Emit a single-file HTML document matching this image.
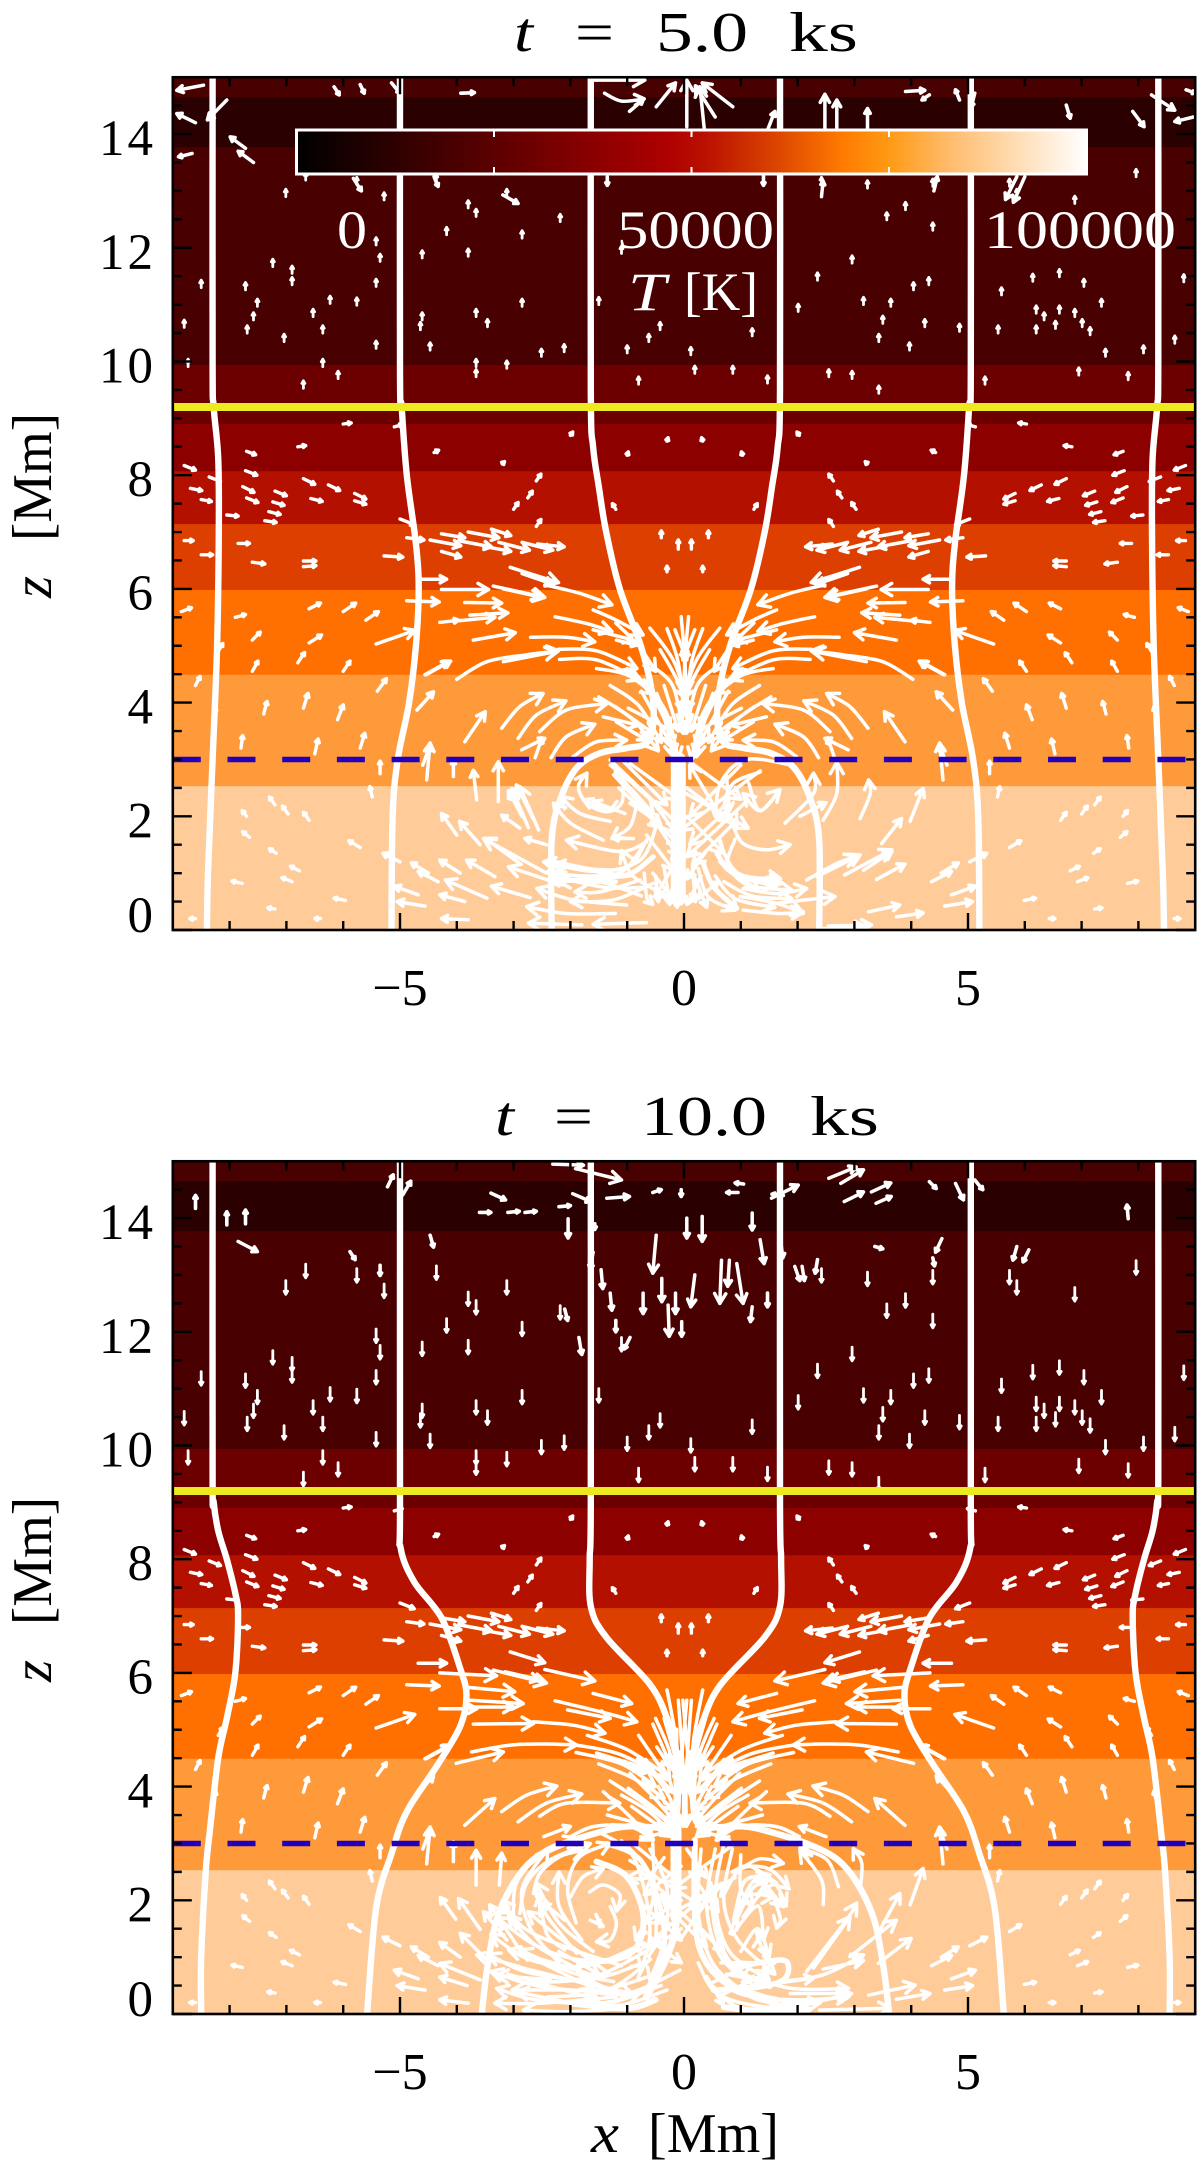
<!DOCTYPE html>
<html lang="en">
<head>
<meta charset="utf-8">
<title>Temperature and velocity field panels</title>
<style>
html,body{margin:0;padding:0;background:#fff;}
svg{display:block;}
text{font-family:"Liberation Serif",serif;fill:#000;}
</style>
</head>
<body>
<svg id="figure" xmlns="http://www.w3.org/2000/svg" width="1200" height="2165" viewBox="0 0 1200 2165">
<defs>
<clipPath id="plot-clip-1"><rect x="173" y="77" width="1023" height="853"/></clipPath>
<clipPath id="plot-clip-2"><rect x="173" y="1161" width="1023" height="853"/></clipPath>
<linearGradient id="colorbar-gradient" x1="0" x2="1" y1="0" y2="0">
<stop offset="0" stop-color="#000000"/>
<stop offset="0.13" stop-color="#300000"/>
<stop offset="0.25" stop-color="#5c0000"/>
<stop offset="0.47" stop-color="#ae0000"/>
<stop offset="0.52" stop-color="#ba1200"/>
<stop offset="0.6" stop-color="#d84000"/>
<stop offset="0.69" stop-color="#ff7a00"/>
<stop offset="0.75" stop-color="#ff9a14"/>
<stop offset="0.83" stop-color="#ffbd70"/>
<stop offset="1" stop-color="#ffffff"/>
</linearGradient>
</defs>
<g id="panel-1"></g>
<g id="panel-2"></g>
<g id="colorbar">
<rect x="296.5" y="130" width="790" height="44" fill="url(#colorbar-gradient)" stroke="#fff" stroke-width="3"/>
<text x="337" y="248" font-size="54" textLength="30" lengthAdjust="spacingAndGlyphs" style="fill:#fff">0</text>
<text x="617" y="248" font-size="54" textLength="157" lengthAdjust="spacingAndGlyphs" style="fill:#fff">50000</text>
<text x="984" y="248" font-size="54" textLength="192" lengthAdjust="spacingAndGlyphs" style="fill:#fff">100000</text>
<text x="628" y="310" font-size="54" font-style="italic" textLength="38" lengthAdjust="spacingAndGlyphs" style="fill:#fff">T</text>
<text x="684" y="310" font-size="54" textLength="74" lengthAdjust="spacingAndGlyphs" style="fill:#fff">[K]</text>
</g>
<g font-size="56">
<text x="514" y="51" font-style="italic" textLength="19" lengthAdjust="spacingAndGlyphs">t</text>
<text x="575" y="51" textLength="39" lengthAdjust="spacingAndGlyphs">=</text>
<text x="656" y="51" textLength="92" lengthAdjust="spacingAndGlyphs">5.0</text>
<text x="789" y="51" textLength="69" lengthAdjust="spacingAndGlyphs">ks</text>
</g>
<g font-size="56">
<text x="495" y="1135" font-style="italic" textLength="19" lengthAdjust="spacingAndGlyphs">t</text>
<text x="554" y="1135" textLength="39" lengthAdjust="spacingAndGlyphs">=</text>
<text x="641" y="1135" textLength="126" lengthAdjust="spacingAndGlyphs">10.0</text>
<text x="810" y="1135" textLength="69" lengthAdjust="spacingAndGlyphs">ks</text>
</g>
<g font-size="56">
<text x="591" y="2152" font-style="italic" textLength="28" lengthAdjust="spacingAndGlyphs">x</text>
<text x="648" y="2152" textLength="131" lengthAdjust="spacingAndGlyphs">[Mm]</text>
</g>
<g font-size="56">
<text transform="translate(51,598) rotate(-90)" font-style="italic" textLength="22" lengthAdjust="spacingAndGlyphs">z</text>
<text transform="translate(51,541) rotate(-90)" textLength="128" lengthAdjust="spacingAndGlyphs">[Mm]</text>
</g>
<g font-size="56">
<text transform="translate(51,1682) rotate(-90)" font-style="italic" textLength="22" lengthAdjust="spacingAndGlyphs">z</text>
<text transform="translate(51,1625) rotate(-90)" textLength="128" lengthAdjust="spacingAndGlyphs">[Mm]</text>
</g>
</svg>
<script>
// Temperature bands: upper/lower z edge and colour, top to bottom
const bandEdges = [15, 14.65, 13.77, 9.94, 8.9, 8.07, 7.14, 5.98, 4.49, 2.53, -0.01];
const bandColors = ['#480000', '#2a0000', '#480000', '#6c0000', '#8d0000', '#b31000', '#dd3f00', '#ff7000', '#ff9a3a', '#ffcc99'];
const xTickLabels = [-5, 0, 5];
const zTickLabels = [0, 2, 4, 6, 8, 10, 12, 14];
const transitionHeight = 9.2;
const coronaBase = 3;

// Left-hand field lines; [x, z] in Mm. The right-hand lines are their mirror images.
const fieldLinesP1 = [
  [[-8.3,15],[-8.3,10],[-8.28,9.2],[-8.2,8.3],[-8.19,7],[-8.22,5],[-8.3,3],[-8.38,1],[-8.4,0]],
  [[-5,15],[-5,9.8],[-4.97,9.2],[-4.88,8],[-4.72,6.8],[-4.67,6],[-4.72,5],[-4.84,4],[-5.04,3],[-5.13,2],[-5.15,0]],
  [[-1.64,15],[-1.64,9.5],[-1.6,8.5],[-1.5,7.8],[-1.37,7],[-1.13,6],[-.76,5],[-.57,4.22],[-.54,3.64],[-.66,3.29],[-1.01,3.2],[-1.48,3.11],[-1.89,2.85],[-2.18,2.29],[-2.33,1.58],[-2.33,0]]
];
const fieldLinesP2 = [
  [[-8.3,15],[-8.3,9.5],[-8.28,9],[-8.2,8.5],[-8.05,8],[-7.9,7.4],[-7.85,7],[-7.9,6],[-8.05,5.2],[-8.2,4.5],[-8.35,3.2],[-8.42,2.5],[-8.5,1],[-8.5,0]],
  [[-5,15],[-5,9],[-4.99,8.2],[-4.75,7.6],[-4.27,6.97],[-3.94,6.08],[-3.83,5.6],[-3.94,5.06],[-4.34,4.38],[-4.88,3.56],[-5.15,2.82],[-5.42,1.86],[-5.58,0]],
  [[-1.64,15],[-1.64,9],[-1.66,8],[-1.64,7.17],[-1.37,6.63],[-.6,5.8],[-.3,5.2],[-.15,4.6],[-.12,3.6],[-.3,3.3],[-1,3.3],[-1.48,3.2],[-2.18,2.97],[-2.66,2.71],[-3,2.3],[-3.3,1.65],[-3.47,.77],[-3.56,0]]
];

// Mid-atmosphere stubs on the left: [x, z, dx, dz], mirrored to the right
const midStubs = [
  [-8.8,8.17,.2,-.08],[-8.36,7.97,.2,-.08],[-7.7,8.42,.16,-.06],[-7.72,8.08,.2,-.08],[-6.7,7.94,.2,-.1],[-6.26,7.83,.2,-.1],
  [-8.69,7.77,.2,-.04],[-7.77,7.8,.2,-.1],[-7.2,7.72,.2,-.08],[-6.57,7.59,.2,-.05],[-5.8,7.68,.2,-.1],[-8.5,7.57,.18,-.03],
  [-7.7,7.6,.2,-.08],[-7.24,7.53,.2,-.06],[-5.8,7.55,.2,-.06],[-8.05,7.3,.2,-.02],[-7.31,7.36,.2,-.05],[-7.38,7.2,.2,-.03],
  [-5,7.23,.25,-.1],[-7.85,6.8,.2,0],[-8.5,6.6,.2,0],[-7.6,6.47,.22,-.03],[-6.7,6.49,.22,0],[-6.7,6.39,.22,.02],[-8.8,6.85,.16,0],
  [-3.2,8.2,.04,.04],[-2,8.7,.04,.06],[-1,8.35,.02,.06],[-.3,8.6,.02,.06],[-4.4,8.4,.08,.04],[-5.1,8.85,.14,.04],[-6,8.9,.14,.02],[-6.8,8.5,.14,.02],
  [-2.6,7.9,.08,.12],[-3,7.4,.08,.12],[-2.75,7.6,.08,.12],[-2.6,7.1,.08,.12],[-1.2,7.4,-.06,.1],[-.4,6.9,0,.12],[-.1,6.7,0,.16],[-.3,6.3,0,.1],
  [-7.9,5.5,.18,.05],[-6.6,5.65,.2,.1],[-6,5.6,.22,.15],[-5.6,5.45,.22,.15],[-8.85,5.6,.18,.07],[-6.6,5.05,.22,.14],[-7.6,5.1,.14,.14],[-8.2,4.9,.08,.14],
  [-8.6,4.3,.08,.16],[-7.6,4.55,.1,.18],[-6.8,4.7,.12,.18],[-6,4.55,.12,.18],[-5.4,4.2,.16,.22],[-8.3,3.7,.06,.22],[-7.4,3.8,.06,.22],[-6.7,3.9,.08,.26],
  [-6.1,3.7,.1,.26],[-5.7,3.2,.08,.26],[-7.8,3.2,.03,.22],[-6.5,3.1,.06,.26],[-5.35,2.75,0,.22],
  [-7.2,2.2,-.1,.14],[-6.97,2.04,-.1,.14],[-6.6,1.93,-.1,.14],[-7.7,2,-.08,.1],[-7.65,1.63,-.12,.1],[-5.7,1.45,-.2,.12],[-7.18,1.35,-.12,.08],
  [-6.77,1.04,-.16,.08],[-6.9,.85,-.18,.07],[-7.78,.82,-.18,.04],[-5.96,.52,-.2,.04],[-7.2,.37,-.13,.02],[-5.49,2.34,-.04,.18],[-6.4,.2,-.1,0],[-8.6,.2,-.1,0]
];

// Outer velocity streaks, shared by both panels and mirrored: x0,z0,x1,z1[,...], last point is the tip
const outerStreaks = [
  [-4.27,6.97,-3.86,6.9],[-4.47,6.86,-3.93,6.76],[-4.27,6.66,-3.93,6.56],[-3.8,7,-3.26,6.9],[-3.93,6.84,-3.39,6.74],[-3.53,6.75,-3.05,6.66],
  [-3.26,6.82,-2.72,6.68],[-2.85,6.82,-2.31,6.68],[-3.39,7.05,-3.05,6.94],[-2.58,6.79,-2.11,6.74],[-4.88,6.9,-4.58,6.86],[-5.28,6.58,-4.95,6.56],
  [-4.68,6.17,-4.18,6.17],[-4.88,5.79,-4.31,5.77],[-5.42,5.03,-4.74,5.27],[-4.54,4.49,-4.11,4.73],[-4.56,4.49,-4.15,4.72],[-4.7,3.87,-4.41,4.19],
  [-4.53,2.64,-4.47,3.29],[-4.6,2.9,-4.47,3.25],[-4.33,.85,-4.68,1.03],[-4.5,1,-4.8,1.18],[-4.68,.62,-5.1,.77],[-4.56,.42,-5.05,.5],[-5,1.2,-5.3,1.35]
];

// Panel 1: flow above the cell (left side, mirrored)
const upperFlowP1 = [
  [-3.06,6.38,-2.21,6.11],[-2.85,6.27,-2.3,6.08],[-3.36,6.05,-2.45,5.85],[-3.18,6,-2.53,5.86],[-4.27,5.99,-3.44,5.99],[-3.86,5.76,-3.21,5.75],[-3.77,5.54,-3.1,5.58],[-3.97,5.44,-3.33,5.5],[-4.3,5.41,-3.97,5.45],
  [-3.71,5.1,-2.97,5.23],[-4,4.41,-3.47,4.72,-2.77,4.84,-2.21,4.91],[-3.18,4.72,-2.24,4.9],[-2.7,5.15,-2.07,5.15,-1.57,5.07],[-2.27,5.51,-1.71,5.39,-1.27,5.25],[-2.45,6.07,-1.83,5.92,-1.27,5.72],
  [-1.6,5.63,-1.19,5.45,-.72,5.19],[-2.21,4.94,-1.53,4.91,-.83,4.6],[-2.19,4.76,-1.53,4.75,-.77,4.4],[-1.54,4.6,-1.01,4.49,-.54,4.16],[-1.19,5.1,-.84,5.01],[-1.6,5.28,-.89,5.1],
  [-3.86,3.31,-3.5,3.84],[-3.21,3.55,-2.89,3.93,-2.48,4.16],[-2.92,3.37,-2.6,3.78,-2.08,4.03],[-2.54,3.49,-2.07,3.87,-1.36,3.98],[-2.34,3.03,-2.07,3.4,-1.57,3.62],[-2.86,3.17,-2.45,3.37],[-2.62,3.03,-2.5,3.38],[-1.95,3.05,-1.54,3.31,-1.01,3.34],
  [-1.21,3.93,-.54,3.46],[-1.42,3.75,-.8,3.6],[-.98,3.9,-.48,3.64],[-1.19,3.66,-.66,3.34],
  [-.6,5.31,-.19,4.75,.05,4.05],[-.42,4.93,-.07,4.28,.08,3.57],[-.54,4.63,-.19,4.28,-.01,3.46],[-.48,4.16,-.31,3.69,-.19,3.05],[.08,5.51,.02,4.75,.05,4.16],[-.16,5.28,.05,4.75],[-.35,4.3,-.1,3.5],[-.75,4.2,-.25,3.3],
  [-1.2,5.4,-.8,5,-.5,4.55],[-.85,4.5,-.45,4,-.2,3.2],[-.3,5.3,-.1,4.7,0,3.8],[-.7,4.4,-.3,3.8,-.1,3],[-1.3,4.3,-.8,3.95,-.4,3.3],[-1.5,4.1,-.9,3.7,-.45,3.15],[-1,4.6,-.55,4.1,-.25,3.5]
];
// Panel 1: cell below z = 3, left side
const lowerLeftP1 = [
  [-3.65,2.29,-3.71,2.81],[-4.06,2.7,-4.06,2.99],[-3.27,2.26,-3.27,2.96],[-2.56,1.76,-2.89,2.52],[-2.74,1.8,-3.03,2.49],[-2.85,2,-3.09,2.45],[-2.65,1.95,-2.95,2.55],[-2.89,1.79,-3.21,2.02],[-3.59,1.5,-3.95,1.91],[-4,1.67,-4.27,2.05],
  [-2.42,1.5,-2.8,1.61],[-2.89,1.17,-3.5,1.61],[-2.12,.79,-3.09,1.11],[-2.42,1,-3.53,1.61],[-2.71,.57,-3.39,.77],[-3.33,.94,-3.83,1.23],[-3.94,1,-4.3,1.23],[-3.47,.56,-4.2,.88],[-3.86,.5,-4.3,.62],[-3.8,.18,-4.27,.2],
  [-1.21,.29,-2.07,.29,-2.77,.41],[-1.8,.09,-2.74,.12],[-.66,.13,-1.6,.1],[-.77,.88,-1.48,.67,-1.92,.67],[-1.01,.44,-1.95,.53,-2.59,.73],[-.54,.82,-1.24,.53,-2,.5],
  [-.48,1.85,-.77,1.23,-1.54,1.03,-2.47,1.2],[-.66,1.58,-1,1.1,-1.8,1.08,-2.3,1.14],[-.72,1.48,-1.1,1.02,-1.7,.95,-2.3,1],[-.66,1.55,-1.13,1.38,-2.07,1.58],[-.89,1.61,-1.24,1.61],[-.83,2.23,-.95,1.82,-1.27,1.61],
  [-1.42,1.58,-2,1.88,-2.3,2.23],[-1.3,1.91,-1.83,2.05,-2.18,2.35],[-1.04,2.05,-1.6,2.26],[-1.18,2.26,-1.36,2.11,-1.77,2.29],[-1.07,2.58,-1.1,2.23,-1.36,2.08,-1.71,2.23,-1.86,2.52,-1.71,2.76],
  [-1.21,2.79,-.54,2.05],[-.95,2.23,-.42,1.88],[-.66,1.67,-.19,1.06],[-1.3,2.99,-.07,1.82],[-1.24,2.73,-.07,1.46],[-.95,2.93,-.07,2.29],[-.7,1,-.65,.55,-.55,.45],[-.5,.95,-.45,.5],[-.35,1.1,-.25,.45],[-.2,1.15,-.12,.4],[-.55,1,-.2,.55],[-.2,1.1,-.5,.6],
  [-1.3,2.9,-.6,2.3,-.15,1.7],[-1.1,3,-.3,2.2],[-1.15,2.5,-.4,1.8],[-.5,1.9,-.1,1.3],[-.3,.6,-.9,.95,-1.1,1.4],[-.75,.6,-1.5,.85,-2.2,.85],[-.75,.75,-1.4,.75,-2.3,.95],[-.95,.95,-1.6,.9,-2.4,.88]
];
// Panel 1: cell below z = 3, right side
const lowerRightP1 = [
  [.34,1.17,.52,.76,.93,.38],[.25,1.08,.43,.58,.9,.35],[.58,1.35,.87,1,1.69,.82],[.63,1.2,.99,.93,1.63,.77],[1.04,.73,1.63,.64,2.16,.73],[.99,.59,1.63,.47,2.1,.29],[1.04,.35,1.69,.29,2.1,.32],[1.63,.47,2.66,.59],[.7,.85,1.2,.6,1.9,.55],
  [2.16,.88,2.69,1.17,3.04,1.29],[2.34,.94,3.1,1.32],[2.83,.97,3.66,1.41],[3.16,1.05,3.66,1.38],[3.39,.89,3.89,1.16],[3.25,.32,3.8,.44],[3.74,.23,4.21,.3],[2.54,.07,3.3,.09],[2.4,.02,3.2,.06],
  [.87,1.82,1.04,1.52,1.45,1.41,1.87,1.5],[3.48,1.52,3.83,1.96],[3.98,1.91,4.21,2.49],[3.1,1.96,3.28,2.4,3.25,2.64],[1.78,1.88,2.28,2.4,2.28,2.76],[2.45,1.93,2.69,2.4,2.69,2.95],[2.04,2,2.5,2.24],
  [1.14,2.58,1.34,2.1,1.69,2.47],[1.69,2.47,1.34,2.1,1.04,2.4],[1.34,2.78,.87,2.58,.72,2.17,.93,1.82],[1.9,2.9,1.1,3,.65,2.6,.55,2],[.75,2.7,.8,2.1],
  [-.07,2.46,1.13,1.79],[1.13,2.29,.05,1.29],[1.34,2.8,-.07,1.75],[.7,1.9,.1,2.9],[.4,1.4,.05,.9],[.15,1.1,.2,.5],[.3,.95,.05,.45],
  [.55,.95,.9,.55,1.6,.4],[.7,1.2,1.1,.8,1.9,.7],[.9,1.6,.78,1.1,1.3,.72],[.6,1.6,.95,1,1.7,.9],[.05,2.5,.85,1.9],[.05,3,1,2.3],[.05,2,.7,1.35],[1,2.9,.1,2],[.85,2.2,.1,1.5],[.9,1.9,.15,1.15],[.2,.9,.4,.4],[.25,.55,.6,.85]
];

// Panel 2: flow above the cell (left side, mirrored)
const upperFlowP2 = [
  [-3.06,6.37,-2.45,6.18],[-3.36,6.05,-2.42,5.82],[-3.15,6.02,-2.55,5.88],[-2.45,6.06,-1.57,5.86],[-4.3,6,-3.3,5.95],[-3.86,5.75,-2.98,5.67],[-3.77,5.52,-2.83,5.46],[-3.77,5.4,-3,5.4],[-4.3,5.37,-3.65,5.37],
  [-1.6,5.64,-.92,5.46],[-2.27,5.51,-1.36,5.29,-.83,5.14],[-2.05,5.35,-1.3,5.2],[-3.71,5.1,-2.65,5.11],[-2.65,5.14,-1.95,5.08,-1.39,4.94],[-3.74,4.61,-3.06,4.73,-2.42,4.75,-1.89,4.73],[-4.01,4.41,-3.18,4.61],
  [-1.89,4.73,-1.19,4.59,-.54,4.29],[-1.54,4.59,-.66,4.32],[-1.27,4.46,-.6,4.26],[-.95,4.23,-.54,3.82,-.19,3.41],[-.98,3.97,-.48,3.59,-.19,3.3],[-.92,3.65,-.19,3.12],[-.72,4.12,-.19,3.59],[-.48,4.7,-.25,4.35],[-.65,4.4,-.2,3.9],
  [-3.86,3.32,-3.33,3.79],[-3.21,3.56,-2.77,3.85,-2.24,4.01],[-2.92,3.38,-2.42,3.71,-1.8,3.87],[-2.54,3.48,-2.07,3.71,-1.13,3.71],[-1.42,3.91,-1.01,3.53,-.54,3.06],[-2.47,3.12,-2,3.3],[-2,3.12,-1.58,3.3,-.95,3.3,-.54,3.06],
  [-.1,5.52,-.01,4.2,-.01,3.3],[.05,5.52,-.07,4.2],[-.35,5.2,-.12,4.4],[-.55,5.1,-.2,4.3],[-.8,4.9,-.25,4.1],
  [-1.7,4.9,-1,4.65,-.3,4.2],[-1.5,4.4,-.9,4.15,-.35,3.8],[-1.1,3.85,-.6,3.55,-.2,3.15],[-1.3,4.1,-.7,3.7,-.2,3.3],[-.8,4.5,-.4,4.05,-.15,3.6],[-1.35,3.5,-.8,3.35,-.3,3.2],[-.5,5.2,-.25,4.6,-.1,3.8],[-.3,5.7,-.15,4.9,-.05,4],[-1.9,4.6,-1.1,4.4,-.5,4]
];
const lowerLeftP2 = [
  [-3.66,2.27,-3.66,2.88],[-4.06,2.68,-4.06,3.03],[-3.25,2.27,-3.21,2.83],[-4.02,1.67,-4.29,2.05],[-3.59,1.49,-3.97,2.03],[-3.5,.98,-3.94,1.42],[-3.94,1,-4.3,1.26],[-3.12,1.3,-3.53,1.8],[-2.89,1.13,-3.42,1.92],[-2.95,1.5,-3.2,1.95],
  [-3.59,.6,-4.3,.89],[-3.82,.5,-4.3,.65],[-3.8,.19,-4.3,.25],[-2.89,.83,-3.65,1.04],[-2.35,.6,-3.3,.68],[-1.19,.3,-2.52,.19,-3.33,.19],[-.07,.77,-1.01,.36,-1.95,.42,-3.03,.42],[-.3,.42,-1.36,.13,-2.95,.39],[-.77,.13,-1.95,.04,-2.83,.07],
  [-1.24,.57,-1.95,.72,-2.89,1.13],[-1.71,.72,-2.47,.95,-3.09,1.13],[-1.89,.8,-2.65,1.24,-3.09,1.74],[-1.89,1.07,-2.36,1.65,-2.54,1.95],[-2.1,1.65,-2.47,1.95],[-2.1,1.13,-2.42,1.42,-2.54,2.12],[-2.65,2.12,-2.54,2.47,-2.18,2.77,-1.77,2.88],[-2.89,1.77,-2.77,2.3,-2.36,2.71,-1.65,3],
  [-2,2.06,-1.77,2.42,-1.42,2.56],[-1.66,2.15,-1.42,2.27,-1.13,2.1,-1.19,1.81],[-1.3,1.89,-1.19,1.6,-1.3,1.3,-1.54,1.27],[-1.65,1.65,-1.42,1.54],[-1.55,1.75,-1.48,1.6],
  [-2.4,.3,-1.4,.4,-.7,.85],[-2.8,.55,-1.6,.65,-.5,1.2],[-3,.85,-1.8,.55,-.9,.35],[-2.6,.95,-1.6,.45],[-3.1,.7,-2.4,.5,-1.5,.25],[-2.2,1.1,-1.5,.7],[-1.4,.15,-.8,.35],
  [-.55,3,-.55,2,-.85,1.3],[-.35,2.75,-.65,2.4,-1,2.4],[-.05,2.6,-.7,2.1],[-.05,2,-.7,1.6],[-.05,1.5,-.5,1.2],[-.75,2.5,-.1,1.9],[-.7,1.9,-.05,1.3],[-.6,1.3,-.05,.9],
  [-.4,.5,-1.4,.2,-2.6,.25,-3.3,.45],[-.5,.7,-1.5,.42,-2.6,.5,-3.4,.75],[-.6,.95,-1.6,.62,-2.7,.72,-3.45,1.05],[-.7,1.25,-1.7,.85,-2.7,.95,-3.4,1.4],[-.95,1,-1.8,.95,-2.6,1.2,-3.3,1.7],[-1.1,.85,-2,1.15,-2.8,1.5,-3.2,2],[-1.3,.7,-2.2,1.35,-2.75,1.8],
  [-1.6,1.1,-2.2,1.6,-2.6,2.3],[-1.8,1.3,-2.2,1.9,-2.2,2.5],[-1.9,1.6,-2.05,2.2,-1.85,2.75,-1.3,3],[-2.2,.9,-2.7,1.5,-2.85,2.2,-2.4,2.9],[-3,1.6,-2.95,2.3,-2.5,2.85,-1.9,3.1],[-1.5,3.2,-.95,2.85,-.7,2.2,-.6,1.4,-.75,.8],[-1.1,3.05,-.7,2.6,-.5,1.9,-.5,1.2],[-.6,2.9,-.3,2.2,-.35,1.3,-.6,.6],
  [-.9,3,-.05,2.3],[-.95,2.7,.3,1.9],[-.8,1.1,.4,2.1]
];
const lowerRightP2 = [
  [.4,.66,.69,.16],[.52,.48,.93,.13,1.69,.07],[.93,.48,1.98,.19,2.95,.36],[1.87,.36,2.92,.36],[1.63,.54,2.28,.63],[1.69,.57,2.45,.69,3.16,1.04],[2.16,.75,2.86,1.65,3.04,1.95],[2.28,.81,2.92,1.71],[2.45,.79,3.16,.94],
  [2.92,1.01,3.74,1.65],[3.45,1.48,3.8,2.12],[3.98,1.92,4.21,2.56],[3.42,.89,4,1.33],[3.25,.33,4.07,.51],[3.74,.26,4.33,.36],[2.39,.07,3.63,.1],[2.45,1.92,2.42,2.36,2.04,2.88],[2.72,2.24,2.52,2.71,2.04,2.92],[3.1,2.18,3.13,2.65,2.98,2.91],[.96,2.53,1.34,2.73,1.75,2.65],
  [.93,1.48,1.04,2.3,1.51,2.45],[.87,1.65,1.1,2.37,1.63,2.3],[.99,1.89,1.28,2.36,1.75,1.89],[1.04,1.71,1.45,2.18,1.69,1.71,1.63,1.51],[.81,1.42,1.1,2.06,1.57,2.06],[.9,1.6,1.2,2.2,1.45,2.3],[1.28,1.42,1.4,1.07],[1.22,1.18,1.34,1.36],
  [-.07,1.3,.34,1.89,.69,2.3],[-.07,1.65,.4,1.18],[.1,2.5,.6,1.8],[.05,2.9,.4,2.4],[.5,.55,1.2,.9],[.6,.3,1.5,.75],[.2,1.6,.7,1.1],[.65,.9,1.6,.9],[.75,.7,1.5,.55],
  [.3,2.9,.25,1.8,.5,.9,1.1,.35],[.55,2.9,.4,1.9,.65,1,1.3,.45],[.7,3,.55,2,.8,1.1,1.5,.6],[.85,2.9,.7,2,.95,1.3,1.6,.7],[.25,.9,.6,.35,1.5,.12,2.4,.2],[.5,.75,1,.35,2,.25,2.9,.3],[1,.7,1.9,.45,2.9,.45],[.65,.6,1.3,.25,2.2,.1],
  [1,2.8,1,2.2,1.2,1.9],[.85,2.5,1.15,2.6,1.6,2.3,1.8,1.9],[.7,2.1,1,2.55,1.5,2.55,1.85,2.2],[.85,1.4,1.3,1.9,1.4,1.3],[1,1.1,1.3,1.5,1.5,1],[.9,3,-.2,2.2],[.9,2.4,-.5,1.6],[.7,1.1,-.4,2.1]
];

// Thick, heavily overplotted strands: x0,z0,x1,z1,...; one width per list
const thickP1 = [
  {w:5,pts:[-.54,1.29,-1.01,.97,-1.65,1.06,-2.3,1.2]},
  {w:4.5,pts:[-1.2,.85,-1.9,.86,-2.4,1.02]},
  {w:5,pts:[.34,1.17,.52,.76,.93,.38]},
  {w:5,pts:[.58,1.35,.87,1,1.69,.82]},
  {w:15,pts:[-.1,3,-.1,1.8,-.1,.55]}
];
const thickP2 = [
  {w:11,pts:[-.14,3.4,-.14,2.5,-.14,1.7]},
  {w:5,pts:[-.14,5,-.14,4,-.14,3.2]},
  {w:7,pts:[-.16,3.06,-.13,1.71,-.3,1.01,-.66,.3]},
  {w:6,pts:[-1.54,2.68,-1.01,2.42,-.72,1.77,-.83,1.18,-1.24,.95,-1.77,.92,-1.83,.72,-1.48,.48,-1.01,.36]},
  {w:5,pts:[-1.36,3,-.77,2.71,-.42,1.89,-.36,1.07,-.66,.42]},
  {w:6,pts:[.19,3.06,.2,1.59,.4,.89,.93,.42,1.63,.25]},
  {w:5,pts:[.46,2.3,.58,1.42,.87,.83,1.51,.48]},
  {w:5.5,pts:[.93,.83,1.69,.95,1.84,.83,1.75,.6,1.34,.48,.52,.42]},
  {w:6,pts:[-1.95,.18,-1,.1,-.5,.25]},
  {w:6,pts:[.7,.12,1.4,.05,2.2,.08]}
];

// Scatter of small upper-atmosphere arrows: [x, z]
const upperScatter = [
  [-7.01,12.9],[-6.66,13.19],[-5.76,13.11],[-5.28,12.84],[-4.36,13.16],[-3.12,12.9],[-3.8,12.7],[-3.66,12.55],[-4.18,12.23],[-2.18,12.46],[-2.85,12.17],[-5.42,12.05],
  [-4.61,11.82],[-3.8,11.85],[-5.35,11.76],[-7.24,11.67],[-6.9,11.55],[-6.9,11.35],[-5.42,11.32],[-7.72,11.26],[-7.51,10.97],[-6.23,11.02],[-5.76,10.99],[-6.53,10.79],
  [-7.58,10.73],[-3.66,10.79],[-4.61,10.73],[-2.85,10.97],[-3.46,10.61],[-4.64,10.56],[-7.69,10.5],[-6.36,10.5],[-7.04,10.35],[-5.42,10.23],[-4.47,10.2],[-3.12,9.88],
  [-3.66,9.91],[-2.11,10.17],[-2.51,10.09],[-.62,10.35],[.12,10.12],[-.42,10.56],[-1.5,11],[3.16,11],[3.64,10.97],[2.01,10.88],[2.35,11.43],[2.96,11.73],[4.31,11.35],
  [4.04,11.26],[5.59,11.17],[6.14,11.41],[6.61,11.49],[7.04,11.32],[7.35,10.97],[6.2,10.85],[6.61,10.85],[6.88,10.79],[6.34,10.73],[7.01,10.61],[6.54,10.58],[5.53,10.5],
  [6.2,10.5],[7.15,10.47],[4.24,10.61],[3.5,10.67],[4.85,10.53],[3.43,10.35],[3.97,10.2],[8.09,10.15],[8.64,10.32],[7.42,10.09],[7.82,9.68],[6.95,9.76],[2.55,9.73],
  [2.96,9.7],[3.43,9.44],[3.57,12.49],[3.9,12.67],[4.38,12.31],[5.73,13.08],[5.86,12.9],[4.38,13.08],[2.42,13.11],[3.23,13.05],[6.88,12.78],[7.96,13.25],[-8.73,9.91],
  [-6.36,9.91],[-6.09,9.7],[-6.7,9.53],[-3.66,9.73],[.19,9.79],[.86,9.79],[1.47,9.62],[-8.8,10.6],[-8.5,11.3],[8.8,11.4],[-1,10.15],[1.2,10.45],[-.8,9.6],[5.3,9.6],[-1.1,11.9]
];
const upperArrowLengthP1 = 0.13;
const upperArrowLengthP2 = -0.24;

// Panel 1 arrows near the top of the box
const topStreaksP1 = [
  [-1.64,14.95,-.69,14.95],[-1.4,14.72,-1.1,14.58,-.7,14.62],[-.96,14.4,-.72,14.6],[-.49,14.48,-.15,14.9],[.05,14.13,.05,14.95],[.36,14.07,.28,14.83],[.86,14.48,.32,14.9],[.55,14.3,.2,14.85],
  [1.47,14.07,1.6,14.4],[2.48,14.07,2.48,14.7],[2.69,14.07,2.69,14.6],[3.23,14.07,3.23,14.45],[-8.46,14.86,-8.93,14.77],[-8.6,14.2,-8.93,14.36],[-8.05,14.6,-8.39,14.25],[-7.72,13.75,-7.99,13.95],
  [-7.58,13.5,-7.85,13.7],[-8.66,13.66,-8.9,13.6],[-6.16,14.83,-6.07,14.69],[-5.7,14.87,-5.63,14.72],[-5.15,14.9,-5,14.72],[-3.93,14.72,-3.69,14.73],[3.9,14.75,4.24,14.77],[4.32,14.69,4.19,14.6],
  [4.85,14.6,4.78,14.78],[5.12,14.72,5.06,14.48],[6.73,14.51,6.8,14.28],[7.9,14.4,8.1,14.13],[8.23,14.69,8.64,14.42],[8.84,14.78,9,14.72],[8.97,14.3,8.64,14.22],
  [-5.82,13.22,-5.68,13],[-4.4,13.25,-4.33,13.08],[4.4,13,4.46,13.25],[5.86,13.25,5.66,12.85],[6,13.25,5.8,12.8],[2.42,12.9,2.45,13.17],[-3.19,12.93,-2.92,12.78],[1.4,13.3,1.4,13.1],[-1.35,13.25,-1.35,13.1]
];
// Panel 2 arrows near the top of the box
const topStreaksP2 = [
  [-2.31,14.95,-1.77,14.93],[-1.91,14.87,-1.1,14.67],[-1.96,14.43,-1.64,14.29],[-1.36,14.35,-.96,14.38],[2.55,14.7,3.03,14.9],[2.76,14.61,3.16,14.85],[2.82,14.29,3.16,14.46],[3.3,14.46,3.64,14.62],
  [3.38,14.26,3.65,14.38],[1.54,14.35,2.01,14.58],[-8.05,13.88,-8.05,14.11],[-7.72,13.9,-7.72,14.14],[-8.6,14.17,-8.6,14.4],[7.82,13.99,7.8,14.23],[-4.95,14.41,-4.81,14.65],[-5.22,14.55,-5.12,14.76],
  [-3.4,14.44,-3.14,14.32],[-3.6,14.1,-3.4,14.1],[-3.1,14.1,-2.9,14.12],[-2.8,14.1,-2.6,14.12],[-2.2,14.2,-2,14.22],[-.55,14.45,-.4,14.5],[-.05,14.5,-.05,14.38],[1.05,14.6,.9,14.62],[.95,14.45,.75,14.45],[1.75,14.4,1.55,14.42],
  [4.78,14.61,4.92,14.32],[5.12,14.67,5.26,14.5],[4.32,14.64,4.44,14.52],[-4.47,13.7,-4.41,13.49],[4.54,13.64,4.43,13.4],[5.86,13.5,5.79,13.26],[6.07,13.44,5.97,13.23],[3.36,13.5,3.5,13.46],
  [-7.85,13.59,-7.51,13.41],[-5.88,13.41,-5.79,13.27],[-5.35,13.17,-5.35,12.99],[4.38,13.3,4.41,13.16],[2.08,13.15,2.12,12.9],[1.95,13.15,2.04,12.9],[2.35,13.27,2.31,13.03]
];
// Panel 2 long downward arrows in the corona
const coronaStreaksP2 = [
  [.05,14,.05,13.65],[.32,14.03,.32,13.59],[1.2,14.09,1.2,13.79],[-.49,13.7,-.55,13.03],[1.34,13.62,1.41,13.2],[-1.46,13.09,-1.43,12.76],[-.39,12.94,-.39,12.53],[.19,13,.12,12.44],
  [-.15,12.68,-.15,12.32],[-.72,12.68,-.72,12.32],[-1.3,12.68,-1.27,12.38],[-.28,12.47,-.26,11.92],[-.04,12.18,-.04,11.92],[.66,13.26,.63,12.5],[.8,13.26,.77,12.8],[.93,13.2,1.04,12.5],
  [1.47,12.68,1.47,12.44],[1.2,12.44,1.17,12.18],[-2.04,13.99,-2.04,13.65],[-1.57,13.9,-1.57,13.8],[1.7,13.62,1.74,13.3],[-1.6,13.4,-1.65,13.1],[-2.1,12.4,-2.05,12.2],[-.95,11.9,-1.05,11.7],[-1.85,11.9,-1.8,11.6],[-1.2,12.2,-1.2,12]
];

function xScale(x) { return 684 + x * 56.8; }
function zScale(z, bottom) { return bottom - z * 56.85; }

const SVG_NS = 'http://www.w3.org/2000/svg';
function make(tag, attrs, parent) {
  const el = document.createElementNS(SVG_NS, tag);
  for (const k in attrs) el.setAttribute(k, attrs[k]);
  parent.appendChild(el);
  return el;
}
function smoothPath(pts) {
  let d = 'M' + pts[0][0].toFixed(1) + ' ' + pts[0][1].toFixed(1);
  for (let i = 0; i < pts.length - 1; i++) {
    const p0 = pts[Math.max(i - 1, 0)], p1 = pts[i], p2 = pts[i + 1], p3 = pts[Math.min(i + 2, pts.length - 1)];
    const c1x = p1[0] + (p2[0] - p0[0]) / 6, c1y = p1[1] + (p2[1] - p0[1]) / 6;
    const c2x = p2[0] - (p3[0] - p1[0]) / 6, c2y = p2[1] - (p3[1] - p1[1]) / 6;
    d += 'C' + c1x.toFixed(1) + ' ' + c1y.toFixed(1) + ' ' + c2x.toFixed(1) + ' ' + c2y.toFixed(1) + ' ' + p2[0].toFixed(1) + ' ' + p2[1].toFixed(1);
  }
  return d;
}
function drawStreak(parent, flat, bottom, mirrored, width, withHead) {
  const pts = [];
  for (let i = 0; i < flat.length; i += 2) {
    const x = mirrored ? 0.03 - flat[i] : flat[i];
    pts.push([xScale(x), zScale(flat[i + 1], bottom)]);
  }
  let len = 0;
  for (let i = 1; i < pts.length; i++) len += Math.hypot(pts[i][0] - pts[i - 1][0], pts[i][1] - pts[i - 1][1]);
  let d = smoothPath(pts);
  if (withHead) {
    const a = pts[pts.length - 2], b = pts[pts.length - 1];
    const ang = Math.atan2(b[1] - a[1], b[0] - a[0]);
    const hl = Math.max(3, Math.min(13, len * 0.26));
    const s = 0.52;
    d += 'M' + (b[0] - hl * Math.cos(ang - s)).toFixed(1) + ' ' + (b[1] - hl * Math.sin(ang - s)).toFixed(1);
    d += 'L' + b[0].toFixed(1) + ' ' + b[1].toFixed(1);
    d += 'L' + (b[0] - hl * Math.cos(ang + s)).toFixed(1) + ' ' + (b[1] - hl * Math.sin(ang + s)).toFixed(1);
  }
  const w = width || (len < 14 ? 3.6 : 3.5);
  const p = make('path', { d: d, fill: 'none', stroke: '#fff', 'stroke-width': w, 'stroke-linecap': 'round', 'stroke-linejoin': 'round' }, parent);
  
  
}

function drawPanel(id, clipId, bottom, cfg) {
  const root = document.getElementById(id);
  const left = xScale(-9), right = xScale(9);
  const top = zScale(15, bottom);
  const plot = make('g', { 'clip-path': 'url(#' + clipId + ')' }, root);
  
  

  bandColors.forEach(function (c, i) {
    const y0 = zScale(bandEdges[i], bottom), y1 = zScale(bandEdges[i + 1], bottom);
    const r = make('rect', { x: left - 2, y: y0, width: right - left + 4, height: y1 - y0 + 0.5, fill: c }, plot);
    
    
  });

  const arrows = make('g', {}, plot);
  
  

  upperScatter.forEach(function (p) {
    drawStreak(arrows, [p[0], p[1], p[0], p[1] + cfg.upperLength], bottom, false, 2.8, true);
  });
  midStubs.forEach(function (s) {
    [false, true].forEach(function (m) {
      drawStreak(arrows, [s[0], s[1], s[0] + s[2], s[1] + s[3]], bottom, m, 3.4, true);
    });
  });
  outerStreaks.concat(cfg.upperFlow).forEach(function (s) {
    [false, true].forEach(function (m) { drawStreak(arrows, s, bottom, m, 0, true); });
  });
  cfg.lowerLeft.concat(cfg.lowerRight, cfg.top).forEach(function (s) {
    drawStreak(arrows, s, bottom, false, 0, true);
  });
  cfg.thick.forEach(function (s) { drawStreak(arrows, s.pts, bottom, false, s.w, false); });

  cfg.lines.forEach(function (line) {
    [false, true].forEach(function (m) {
      const pts = line.map(function (p) { return [xScale(m ? 0.05 - p[0] : p[0]), zScale(p[1], bottom)]; });
      const f = make('path', { d: smoothPath(pts), fill: 'none', stroke: '#fff', 'stroke-width': 6.4 }, plot);
      
      
    });
  });

  const dash = make('line', { x1: left, x2: right, y1: zScale(coronaBase, bottom), y2: zScale(coronaBase, bottom), stroke: '#2200bb', 'stroke-width': 5.5, 'stroke-dasharray': '28 26.7' }, plot);
  
  
  const yellow = make('line', { x1: left, x2: right, y1: zScale(transitionHeight, bottom), y2: zScale(transitionHeight, bottom), stroke: '#eeea22', 'stroke-width': 8 }, plot);
  
  

  const axes = make('g', { stroke: '#000', 'stroke-width': 2.6, fill: 'none' }, root);
  
  
  make('rect', { x: left, y: top, width: right - left, height: bottom - top }, axes);

  let tickPath = '';
  for (let x = -9; x <= 9; x += 1) {
    const major = x % 5 === 0;
    const px = xScale(x), lenB = major ? 17 : 9;
    tickPath += 'M' + px + ' ' + bottom + 'v' + (-lenB) + 'M' + px + ' ' + top + 'v' + lenB;
  }
  for (let z = 0; z <= 15; z += 0.5) {
    const major = z % 2 === 0;
    const py = zScale(z, bottom), lenL = major ? 19 : 9;
    tickPath += 'M' + left + ' ' + py + 'h' + lenL + 'M' + right + ' ' + py + 'h' + (-lenL);
  }
  const ticks = make('path', { d: tickPath, 'stroke-width': 2.4 }, axes);
  
  

  zTickLabels.forEach(function (z) {
    const t = make('text', { x: 156, y: z === 0 ? bottom + 2 : zScale(z, bottom) + 21, 'text-anchor': 'end', 'font-size': 51, 'letter-spacing': 3 }, root);
    t.textContent = String(z);
    
    
  });
  xTickLabels.forEach(function (x) {
    const t = make('text', { x: xScale(x), y: bottom + 75, 'text-anchor': 'middle', 'font-size': 52 }, root);
    t.textContent = x < 0 ? '\u2212' + Math.abs(x) : String(x);
    
    
  });
}

drawPanel('panel-1', 'plot-clip-1', 930, { lines: fieldLinesP1, upperFlow: upperFlowP1, lowerLeft: lowerLeftP1, lowerRight: lowerRightP1, thick: thickP1, top: topStreaksP1, upperLength: upperArrowLengthP1 });
drawPanel('panel-2', 'plot-clip-2', 2014, { lines: fieldLinesP2, upperFlow: upperFlowP2, lowerLeft: lowerLeftP2, lowerRight: lowerRightP2, thick: thickP2, top: topStreaksP2.concat(coronaStreaksP2), upperLength: upperArrowLengthP2 });

// Colour bar tick marks drawn from its temperature scale
const colorbarTicks = [25000, 50000, 75000];
const colorbarMax = 100000;
const cb = document.getElementById('colorbar');
colorbarTicks.forEach(function (v) {
  const x = 296.5 + 790 * v / colorbarMax;
  const tk = make('path', { d: 'M' + x + ' 130v7M' + x + ' 174v-7', stroke: '#fff', 'stroke-width': 2, fill: 'none' }, cb);
  
  
});
</script>
</body>
</html>
